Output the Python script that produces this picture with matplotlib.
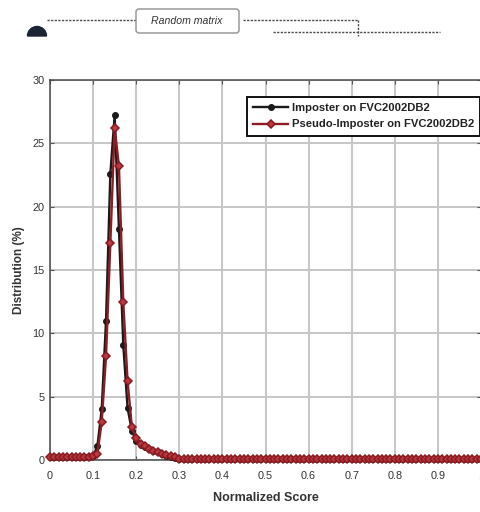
import matplotlib
matplotlib.use("Agg")
import matplotlib.pyplot as plt
from matplotlib import patches
import numpy as np

# ---------------- data ----------------
scores = [round(i / 100, 2) for i in range(101)]

imposter = [
    0.20, 0.20, 0.20, 0.20, 0.20, 0.20, 0.20, 0.20, 0.20, 0.25,
    0.30, 1.10, 4.00, 11.0, 22.6, 27.2, 18.2, 9.10, 4.10, 2.30,
    1.50, 1.20, 1.00, 0.85, 0.70, 0.60, 0.45, 0.35, 0.25, 0.15,
    0.08, 0.05, 0.05, 0.05, 0.05, 0.05, 0.05, 0.05, 0.05, 0.05,
    0.05, 0.05, 0.05, 0.05, 0.05, 0.05, 0.05, 0.05, 0.05, 0.05,
    0.05, 0.05, 0.05, 0.05, 0.05, 0.05, 0.05, 0.05, 0.05, 0.05,
    0.05, 0.05, 0.05, 0.05, 0.05, 0.05, 0.05, 0.05, 0.05, 0.05,
    0.05, 0.05, 0.05, 0.05, 0.05, 0.05, 0.05, 0.05, 0.05, 0.05,
    0.05, 0.05, 0.05, 0.05, 0.05, 0.05, 0.05, 0.05, 0.05, 0.05,
    0.05, 0.05, 0.05, 0.05, 0.05, 0.05, 0.05, 0.05, 0.05, 0.05,
    0.05,
]

pseudo_imposter = [
    0.20, 0.20, 0.20, 0.20, 0.20, 0.20, 0.20, 0.20, 0.20, 0.25,
    0.30, 0.50, 3.00, 8.20, 17.1, 26.2, 23.2, 12.5, 6.20, 2.60,
    1.70, 1.30, 1.10, 0.90, 0.75, 0.60, 0.50, 0.40, 0.30, 0.20,
    0.10, 0.05, 0.05, 0.05, 0.05, 0.05, 0.05, 0.05, 0.05, 0.05,
    0.05, 0.05, 0.05, 0.05, 0.05, 0.05, 0.05, 0.05, 0.05, 0.05,
    0.05, 0.05, 0.05, 0.05, 0.05, 0.05, 0.05, 0.05, 0.05, 0.05,
    0.05, 0.05, 0.05, 0.05, 0.05, 0.05, 0.05, 0.05, 0.05, 0.05,
    0.05, 0.05, 0.05, 0.05, 0.05, 0.05, 0.05, 0.05, 0.05, 0.05,
    0.05, 0.05, 0.05, 0.05, 0.05, 0.05, 0.05, 0.05, 0.05, 0.05,
    0.05, 0.05, 0.05, 0.05, 0.05, 0.05, 0.05, 0.05, 0.05, 0.05,
    0.05,
]

x_ticks = [0, 0.1, 0.2, 0.3, 0.4, 0.5, 0.6, 0.7, 0.8, 0.9, 1]
x_tick_labels = ["0", "0.1", "0.2", "0.3", "0.4", "0.5", "0.6", "0.7", "0.8", "0.9", "1"]
y_ticks = [0, 5, 10, 15, 20, 25, 30]
labels = ["Imposter on FVC2002DB2", "Pseudo-Imposter on FVC2002DB2"]

# ---------------- figure ----------------
plt.rcParams['font.family'] = ['Liberation Sans', 'DejaVu Sans']
W, H = 480, 512
fig = plt.figure(figsize=(W / 100, H / 100), dpi=100)
fig.patch.set_facecolor('white')

ax = fig.add_axes([50 / W, 52 / H, 431 / W, 380 / H])
ax.set_xlim(0, 1)
ax.set_ylim(0, 30)
ax.set_xticks(x_ticks)
ax.set_xticklabels(x_tick_labels)
ax.set_yticks(y_ticks)
ax.grid(True, color='#c6c6c6', linewidth=1.4)
ax.set_axisbelow(True)
ax.tick_params(axis='both', direction='in', length=3, width=0.8, colors='#555555',
               labelcolor='#333333', labelsize=7.8, top=True, right=True)
ax.tick_params(axis='x', pad=8)
ax.tick_params(axis='y', pad=4)
for s in ax.spines.values():
    s.set_color('#4a4a4a')
    s.set_linewidth(1.1)

ax.plot(scores, imposter, color='#1a1a1a', lw=1.7, marker='o', ms=4,
        mfc='#1a1a1a', mec='#1a1a1a', label=labels[0], clip_on=False, zorder=3)
ax.plot(scores, pseudo_imposter, color='#8e1c22', lw=1.7, marker='D', ms=4.4,
        mfc='#b83a40', mec='#8a1a20', mew=1.1, label=labels[1], clip_on=False, zorder=4)

ax.set_xlabel("Normalized Score", fontsize=9, fontweight='bold', color='#333333', labelpad=8)
ax.set_ylabel("Distribution (%)", fontsize=8.5, fontweight='bold', color='#333333', labelpad=5)

leg = ax.legend(loc='upper left', bbox_to_anchor=(0.457, 0.955), fontsize=8.1,
                frameon=True, fancybox=False, edgecolor='#111111', framealpha=1,
                handlelength=3.1, handletextpad=0.35, borderpad=0.55, labelspacing=0.55,
                borderaxespad=0)
leg.get_frame().set_linewidth(1.4)
for t in leg.get_texts():
    t.set_fontweight('bold')
    t.set_color('#222222')

# ---------------- decorative diagram fragment at top ----------------
ov = fig.add_axes([0, 0, 1, 1], facecolor='none')
ov.set_xlim(0, W)
ov.set_ylim(H, 0)
ov.axis('off')

ov.add_patch(patches.Wedge((37, 36), 9.5, 180, 360, color='#1c2535'))
dash = dict(color='#4a4a4a', lw=1.0, ls=(0, (1.6, 1.0)))
ov.plot([47, 135], [20, 20], **dash)
ov.plot([243, 358], [20, 20], **dash)
ov.plot([358, 358], [20, 36], **dash)
ov.plot([273, 440], [32, 32], **dash)
ov.add_patch(patches.FancyBboxPatch((136, 9), 103, 24,
                                    boxstyle='round,pad=0,rounding_size=3',
                                    fc='white', ec='#9a9a9a', lw=1.1))
ov.text(187, 21.5, "Random matrix", fontsize=7.6, style='italic',
        color='#333333', ha='center', va='center')

fig.savefig("out.png", dpi=100, facecolor='white')
